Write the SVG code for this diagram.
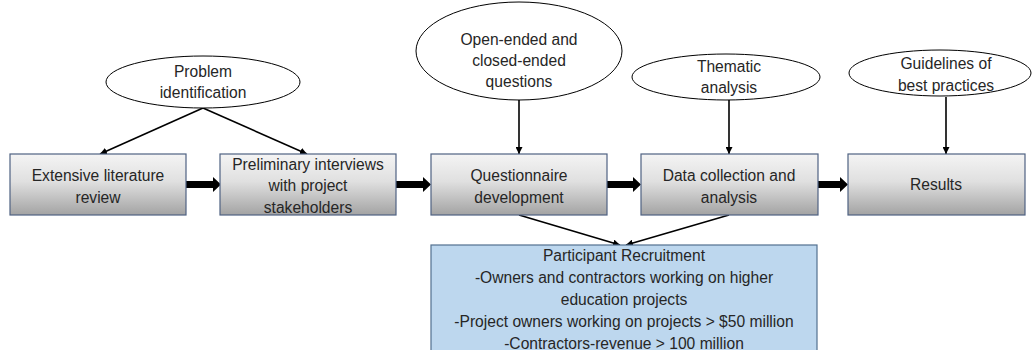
<svg xmlns="http://www.w3.org/2000/svg" width="1032" height="350" viewBox="0 0 1032 350">
  <defs>
    <linearGradient id="boxFill" x1="0" y1="0" x2="0" y2="1">
      <stop offset="0" stop-color="#f4f4f4"/>
      <stop offset="0.45" stop-color="#e0e0e0"/>
      <stop offset="1" stop-color="#a3a3a3"/>
    </linearGradient>
    <marker id="thin" viewBox="0 0 10 10" refX="10" refY="5" markerWidth="7" markerHeight="7" markerUnits="userSpaceOnUse" orient="auto">
      <path d="M0,0 L10,5 L0,10 z" fill="#000"/>
    </marker>
  </defs>
  <style>
    .box { fill: url(#boxFill); stroke: #4f6282; stroke-width: 1.2; }
    .oval { fill: #fff; stroke: #000; stroke-width: 1; }
    .blue { fill: #bdd7ee; stroke: #52708f; stroke-width: 1.2; }
    .lbl { font-family: "Liberation Sans", Arial, sans-serif; font-size: 15.6px; fill: #262626; text-anchor: middle; }
    .link { stroke: #000; stroke-width: 1.6; fill: none; marker-end: url(#thin); }
    .flow { fill: #000; }
  </style>

  <rect width="1032" height="350" fill="#fff"/>

  <!-- connectors -->
  <g id="connectors">
    <line class="link" x1="203" y1="108" x2="100" y2="154"/>
    <line class="link" x1="203" y1="108" x2="307" y2="154"/>
    <line class="link" x1="519" y1="100" x2="519" y2="154"/>
    <line class="link" x1="729" y1="100" x2="729" y2="154"/>
    <line class="link" x1="946" y1="97" x2="946" y2="154"/>
    <line class="link" x1="519" y1="215" x2="620" y2="245"/>
    <line class="link" x1="729" y1="215" x2="626" y2="245"/>
    <!-- thick process arrows -->
    <path class="flow" d="M186,181 L213,181 L213,177 L221,184.5 L213,192 L213,188 L186,188 z"/>
    <path class="flow" d="M396,181 L423,181 L423,177 L431,184.5 L423,192 L423,188 L396,188 z"/>
    <path class="flow" d="M607,181 L633,181 L633,177 L641,184.5 L633,192 L633,188 L607,188 z"/>
    <path class="flow" d="M818,181 L840,181 L840,177 L848,184.5 L840,192 L840,188 L818,188 z"/>
  </g>

  <!-- input ovals -->
  <g id="problem">
    <ellipse class="oval" cx="203" cy="82" rx="97" ry="26"/>
    <text class="lbl" x="203" y="77">Problem</text>
    <text class="lbl" x="203" y="98">identification</text>
  </g>
  <g id="questions">
    <ellipse class="oval" cx="519" cy="51" rx="103" ry="49"/>
    <text class="lbl" x="519" y="45">Open-ended and</text>
    <text class="lbl" x="519" y="66">closed-ended</text>
    <text class="lbl" x="519" y="87">questions</text>
  </g>
  <g id="thematic">
    <ellipse class="oval" cx="726" cy="77" rx="94" ry="23"/>
    <text class="lbl" x="729" y="72">Thematic</text>
    <text class="lbl" x="729" y="93">analysis</text>
  </g>
  <g id="guidelines">
    <ellipse class="oval" cx="940" cy="73" rx="91" ry="23"/>
    <text class="lbl" x="946" y="69">Guidelines of</text>
    <text class="lbl" x="946" y="91">best practices</text>
  </g>

  <!-- process steps -->
  <g id="literature">
    <rect class="box" x="10" y="154" width="176" height="61"/>
    <text class="lbl" x="98" y="181">Extensive literature</text>
    <text class="lbl" x="98" y="203">review</text>
  </g>
  <g id="interviews">
    <rect class="box" x="220" y="154" width="176" height="61"/>
    <text class="lbl" x="308" y="170">Preliminary interviews</text>
    <text class="lbl" x="308" y="191">with project</text>
    <text class="lbl" x="308" y="213">stakeholders</text>
  </g>
  <g id="questionnaire">
    <rect class="box" x="431" y="154" width="176" height="61"/>
    <text class="lbl" x="519" y="181">Questionnaire</text>
    <text class="lbl" x="519" y="203">development</text>
  </g>
  <g id="datacollection">
    <rect class="box" x="641" y="154" width="177" height="61"/>
    <text class="lbl" x="729" y="181">Data collection and</text>
    <text class="lbl" x="729" y="203">analysis</text>
  </g>
  <g id="results">
    <rect class="box" x="848" y="154" width="177" height="61"/>
    <text class="lbl" x="936" y="190">Results</text>
  </g>

  <!-- recruitment criteria -->
  <g id="recruitment">
    <rect class="blue" x="431" y="245" width="386" height="120"/>
    <text class="lbl" x="624" y="261">Participant Recruitment</text>
    <text class="lbl" x="624" y="283">-Owners and contractors working on higher</text>
    <text class="lbl" x="624" y="305">education projects</text>
    <text class="lbl" x="624" y="327">-Project owners working on projects &gt; $50 million</text>
    <text class="lbl" x="624" y="349">-Contractors-revenue &gt; 100 million</text>
  </g>
</svg>
